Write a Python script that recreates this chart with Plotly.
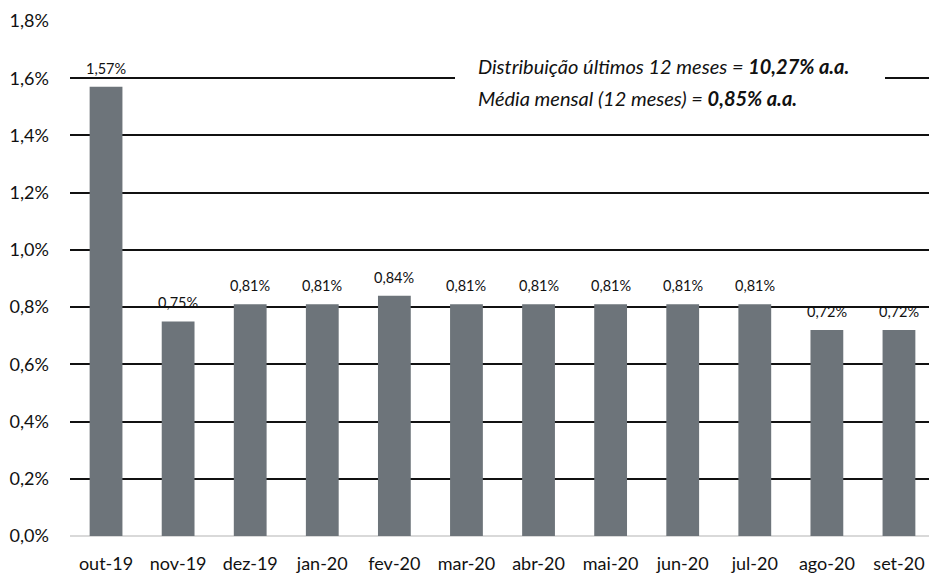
import plotly.graph_objects as go

categories = ["out-19", "nov-19", "dez-19", "jan-20", "fev-20", "mar-20",
              "abr-20", "mai-20", "jun-20", "jul-20", "ago-20", "set-20"]
values = [1.57, 0.75, 0.81, 0.81, 0.84, 0.81, 0.81, 0.81, 0.81, 0.81, 0.72, 0.72]
labels = [f"{v:.2f}%".replace(".", ",") for v in values]
tick_vals = [0, 0.2, 0.4, 0.6, 0.8, 1.0, 1.2, 1.4, 1.6, 1.8]
tick_text = [f"{v:.1f}%".replace(".", ",") for v in tick_vals]
note_lines = ["<i>Distribuição últimos 12 meses = <b>10,27% a.a.</b></i>",
              "<i>Média mensal (12 meses) = <b>0,85% a.a.</b></i>"]

FONT = "Lato, 'Open Sans', sans-serif"
PL, PR = 70, 935  # plot area screen pixels

fig = go.Figure()
fig.add_trace(go.Bar(
    x=categories, y=values,
    marker=dict(color="#6d747a", line=dict(width=0)),
    cliponaxis=False,
))

# value labels above bars
for c, v, lab in zip(categories, values, labels):
    fig.add_annotation(x=c, y=v, text=lab, showarrow=False,
                       xanchor="center", yanchor="bottom", yshift=8,
                       font=dict(size=14.5, color="#111111", family=FONT))

# white box hiding the gridline behind the note
fig.add_shape(type="rect", xref="paper", yref="y",
              x0=(455 - PL) / (PR - PL), x1=(885 - PL) / (PR - PL),
              y0=1.46, y1=1.72, fillcolor="white", line=dict(width=0),
              layer="above")

for txt, yv in zip(note_lines, [1.643, 1.531]):
    fig.add_annotation(
        xref="paper", yref="y", x=(476 - PL) / (PR - PL), y=yv,
        xanchor="left", yanchor="middle", align="left",
        text=txt, showarrow=False,
        font=dict(size=20, color="#111111", family=FONT),
    )

fig.update_layout(
    width=937, height=574,
    margin=dict(l=62, r=10, t=13, b=46),
    plot_bgcolor="white", paper_bgcolor="white",
    bargap=0.545,
    showlegend=False,
    font=dict(family=FONT, size=18, color="#222222"),
    xaxis=dict(showgrid=False, showline=False, ticks="", automargin=False,
               ticklabelstandoff=15,
               tickfont=dict(size=18, color="#111111"), range=[-0.5, 11.5]),
    yaxis=dict(range=[0, 1.8], tickvals=tick_vals, ticktext=tick_text,
               showgrid=True, gridcolor="#111111", automargin=False,
               gridwidth=1.5, zeroline=True, zerolinecolor="#d9d9d9",
               zerolinewidth=1.5, showline=False, ticks="",
               ticklabelstandoff=20, tickfont=dict(size=18, color="#111111")),
)

fig.write_html("out.html")
